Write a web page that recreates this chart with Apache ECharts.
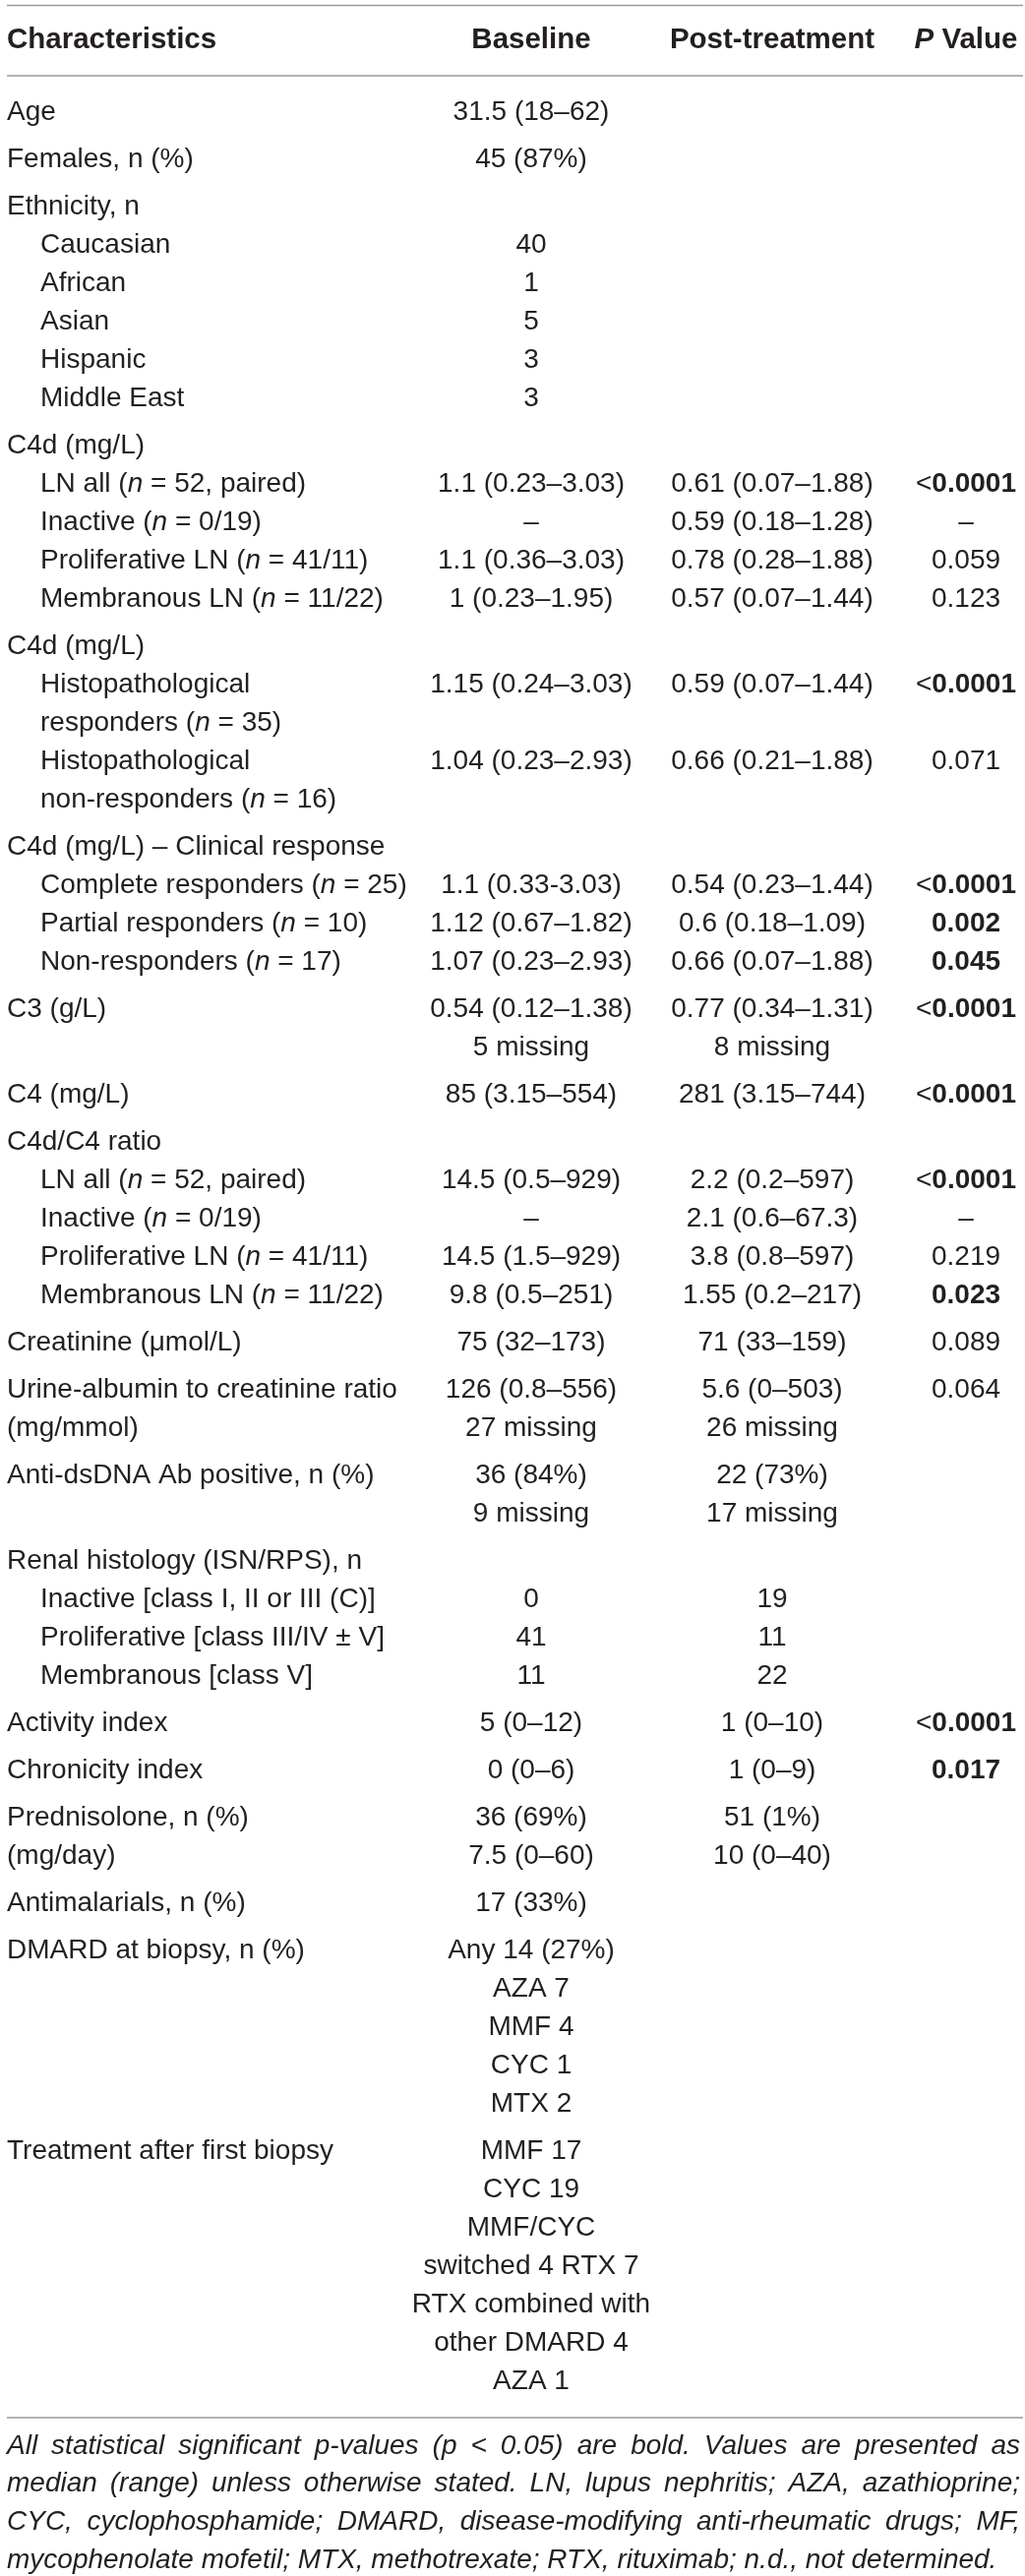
<!DOCTYPE html>
<html>
<head>
<meta charset="utf-8">
<script src="https://cdn.jsdelivr.net/npm/echarts@6/dist/echarts.min.js"></script>
<style>
  html, body { margin: 0; padding: 0; background: #fff; }
  #chart { width: 1042px; height: 2619px; }
</style>
</head>
<body>
<div id="chart"></div>
<script>
// table content, one entry per row group, one string per printed line
// leading two spaces = indented sub-row; {i|..} italic, {b|..} bold
const headers = ['Characteristics', 'Baseline', 'Post-treatment', '{bi|P} Value'];

const labels = [
  ['Age'],
  ['Females, n (%)'],
  ['Ethnicity, n', '  Caucasian', '  African', '  Asian', '  Hispanic', '  Middle East'],
  ['C4d (mg/L)', '  LN all ({i|n} = 52, paired)', '  Inactive ({i|n} = 0/19)', '  Proliferative LN ({i|n} = 41/11)', '  Membranous LN ({i|n} = 11/22)'],
  ['C4d (mg/L)', '  Histopathological', '  responders ({i|n} = 35)', '  Histopathological', '  non-responders ({i|n} = 16)'],
  ['C4d (mg/L) – Clinical response', '  Complete responders ({i|n} = 25)', '  Partial responders ({i|n} = 10)', '  Non-responders ({i|n} = 17)'],
  ['C3 (g/L)', ''],
  ['C4 (mg/L)'],
  ['C4d/C4 ratio', '  LN all ({i|n} = 52, paired)', '  Inactive ({i|n} = 0/19)', '  Proliferative LN ({i|n} = 41/11)', '  Membranous LN ({i|n} = 11/22)'],
  ['Creatinine (μmol/L)'],
  ['Urine-albumin to creatinine ratio', '(mg/mmol)'],
  ['Anti-dsDNA Ab positive, n (%)', ''],
  ['Renal histology (ISN/RPS), n', '  Inactive [class I, II or III (C)]', '  Proliferative [class III/IV ± V]', '  Membranous [class V]'],
  ['Activity index'],
  ['Chronicity index'],
  ['Prednisolone, n (%)', '(mg/day)'],
  ['Antimalarials, n (%)'],
  ['DMARD at biopsy, n (%)', '', '', '', ''],
  ['Treatment after first biopsy', '', '', '', '', '', '']
];

const baseline = [
  ['31.5 (18–62)'],
  ['45 (87%)'],
  ['', '40', '1', '5', '3', '3'],
  ['', '1.1 (0.23–3.03)', '–', '1.1 (0.36–3.03)', '1 (0.23–1.95)'],
  ['', '1.15 (0.24–3.03)', '', '1.04 (0.23–2.93)', ''],
  ['', '1.1 (0.33-3.03)', '1.12 (0.67–1.82)', '1.07 (0.23–2.93)'],
  ['0.54 (0.12–1.38)', '5 missing'],
  ['85 (3.15–554)'],
  ['', '14.5 (0.5–929)', '–', '14.5 (1.5–929)', '9.8 (0.5–251)'],
  ['75 (32–173)'],
  ['126 (0.8–556)', '27 missing'],
  ['36 (84%)', '9 missing'],
  ['', '0', '41', '11'],
  ['5 (0–12)'],
  ['0 (0–6)'],
  ['36 (69%)', '7.5 (0–60)'],
  ['17 (33%)'],
  ['Any 14 (27%)', 'AZA 7', 'MMF 4', 'CYC 1', 'MTX 2'],
  ['MMF 17', 'CYC 19', 'MMF/CYC', 'switched 4 RTX 7', 'RTX combined with', 'other DMARD 4', 'AZA 1']
];

const postTreatment = [
  [],
  [],
  [],
  ['', '0.61 (0.07–1.88)', '0.59 (0.18–1.28)', '0.78 (0.28–1.88)', '0.57 (0.07–1.44)'],
  ['', '0.59 (0.07–1.44)', '', '0.66 (0.21–1.88)', ''],
  ['', '0.54 (0.23–1.44)', '0.6 (0.18–1.09)', '0.66 (0.07–1.88)'],
  ['0.77 (0.34–1.31)', '8 missing'],
  ['281 (3.15–744)'],
  ['', '2.2 (0.2–597)', '2.1 (0.6–67.3)', '3.8 (0.8–597)', '1.55 (0.2–217)'],
  ['71 (33–159)'],
  ['5.6 (0–503)', '26 missing'],
  ['22 (73%)', '17 missing'],
  ['', '19', '11', '22'],
  ['1 (0–10)'],
  ['1 (0–9)'],
  ['51 (1%)', '10 (0–40)'],
  [],
  [],
  []
];

const pValues = [
  [],
  [],
  [],
  ['', '<{b|0.0001}', '–', '0.059', '0.123'],
  ['', '<{b|0.0001}', '', '0.071', ''],
  ['', '<{b|0.0001}', '{b|0.002}', '{b|0.045}'],
  ['<{b|0.0001}'],
  ['<{b|0.0001}'],
  ['', '<{b|0.0001}', '–', '0.219', '{b|0.023}'],
  ['0.089'],
  ['0.064'],
  [],
  [],
  ['<{b|0.0001}'],
  ['{b|0.017}'],
  [],
  [],
  [],
  []
];

const footnote = [
  'All statistical significant p-values (p < 0.05) are bold. Values are presented as',
  'median (range) unless otherwise stated. LN, lupus nephritis; AZA, azathioprine;',
  'CYC, cyclophosphamide; DMARD, disease-modifying anti-rheumatic drugs; MF,',
  'mycophenolate mofetil; MTX, methotrexate; RTX, rituximab; n.d., not determined.'
];

// layout
const W = 1042, H = 2619;
const INK = '#231f20';
const RULE = '#9a9a9a';
const FONT = '"Liberation Sans", Arial, Helvetica, sans-serif';
const colX = [7, 540, 785, 982];
const indentX = 41;
const headerY = 41, firstRowY = 114, rowStep = 39, groupGap = 9;
const ruleLeft = 7, ruleRight = 1040;
const noteLeft = 7, noteRight = 1037, noteStep = 38.7;

const cells = [];
let lineNo = 0, lastRowY = firstRowY;
headers.forEach((h, c) => cells.push({ x: colX[c], y: headerY, text: h, head: true, align: c ? 'center' : 'left' }));
labels.forEach((group, g) => {
  group.forEach((label, l) => {
    const y = firstRowY + lineNo * rowStep + g * groupGap;
    const sub = label.startsWith('  ');
    if (label) cells.push({ x: sub ? indentX : colX[0], y, text: label.trim(), align: 'left' });
    [baseline, postTreatment, pValues].forEach((column, c) => {
      const t = (column[g] || [])[l] || '';
      if (t) cells.push({ x: colX[c + 1], y, text: t, align: 'center' });
    });
    lastRowY = y;
    lineNo++;
  });
});

const rules = [5.5, headerY + 36, lastRowY + 37];
const noteTop = rules[2] + 29;

// justify the footnote lines like the printed page
const ctx = document.createElement('canvas').getContext('2d');
ctx.font = 'italic 28px ' + FONT;
const noteWords = [];
footnote.forEach((text, i) => {
  const words = text.split(' ');
  const widths = words.map(w => ctx.measureText(w).width);
  const total = widths.reduce((a, b) => a + b, 0);
  const last = i === footnote.length - 1;
  const gap = last ? ctx.measureText(' ').width : (noteRight - noteLeft - total) / (words.length - 1);
  let x = noteLeft;
  words.forEach((w, k) => {
    noteWords.push({ x, y: noteTop + i * noteStep, text: w });
    x += widths[k] + gap;
  });
});

function richFor(size) {
  const base = { fontSize: size, fontFamily: FONT, fill: INK };
  return {
    i: Object.assign({ fontStyle: 'italic' }, base),
    b: Object.assign({ fontWeight: 'bold' }, base),
    bi: Object.assign({ fontWeight: 'bold', fontStyle: 'italic' }, base)
  };
}

const chart = echarts.init(document.getElementById('chart'), null, { renderer: 'canvas' });

chart.setOption({
  backgroundColor: '#fff',
  animation: false,
  grid: { left: 0, right: 0, top: 0, bottom: 0 },
  xAxis: { type: 'value', min: 0, max: W, show: false },
  yAxis: { type: 'value', min: 0, max: H, inverse: true, show: false },
  series: [
    {
      type: 'custom',
      name: 'rules',
      silent: true,
      data: rules.map(y => [ruleLeft, y, ruleRight]),
      renderItem: (params, api) => {
        const a = api.coord([api.value(0), api.value(1)]);
        const b = api.coord([api.value(2), api.value(1)]);
        return {
          type: 'line',
          shape: { x1: a[0], y1: a[1], x2: b[0], y2: b[1] },
          style: { stroke: RULE, lineWidth: 1.6 }
        };
      }
    },
    {
      type: 'custom',
      name: 'cells',
      silent: true,
      data: cells.map(c => [c.x, c.y]),
      renderItem: (params, api) => {
        const cell = cells[params.dataIndex];
        const p = api.coord([api.value(0), api.value(1)]);
        const size = cell.head ? 29.5 : 28;
        return {
          type: 'text',
          x: p[0],
          y: p[1],
          style: {
            text: cell.text,
            fontSize: size,
            fontFamily: FONT,
            fontWeight: cell.head ? 'bold' : 'normal',
            fill: INK,
            align: cell.align,
            verticalAlign: 'middle',
            rich: richFor(size)
          }
        };
      }
    },
    {
      type: 'custom',
      name: 'footnote',
      silent: true,
      data: noteWords.map(w => [w.x, w.y]),
      renderItem: (params, api) => {
        const p = api.coord([api.value(0), api.value(1)]);
        return {
          type: 'text',
          x: p[0],
          y: p[1],
          style: {
            text: noteWords[params.dataIndex].text,
            fontSize: 28,
            fontStyle: 'italic',
            fontFamily: FONT,
            fill: INK,
            align: 'left',
            verticalAlign: 'middle'
          }
        };
      }
    }
  ]
});
</script>
</body>
</html>
